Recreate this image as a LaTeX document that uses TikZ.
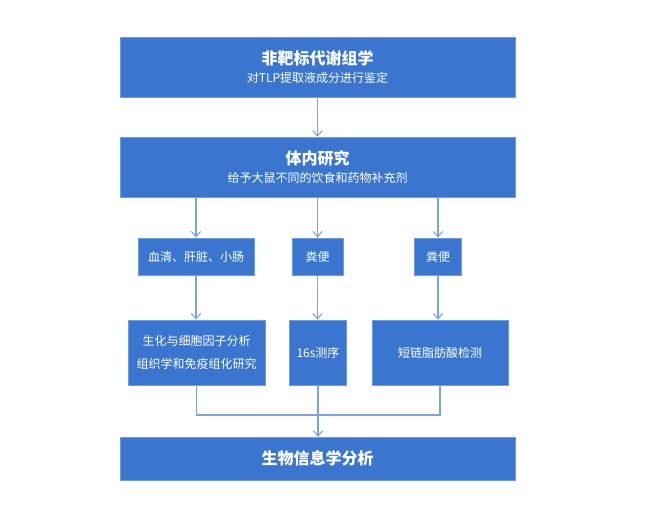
\documentclass[tikz,border=0pt]{standalone}
\usepackage{fontspec}
\newfontfamily\cjk{Noto Sans CJK SC}
\usetikzlibrary{arrows.meta}
\definecolor{bfill}{HTML}{3A76D0}
\definecolor{bline}{HTML}{6E9CE0}
\definecolor{aline}{HTML}{7AA3E0}
\begin{document}
\begin{tikzpicture}[x=0.75pt,y=-0.75pt,
  box/.style={draw=bline,fill=bfill,text=white,font=\cjk\fontsize{9}{13}\selectfont,align=center,inner sep=0pt},
  arr/.style={draw=aline,line width=0.8pt,-{Straight Barb[length=4pt,width=7pt]}},
  ln/.style={draw=aline,line width=0.8pt}]
\useasboundingbox[fill=white] (0,0) rectangle (667,513);
\node[box,minimum width=296pt,minimum height=45pt] (top) at (317.5,67) {{\fontsize{12}{18}\selectfont\bfseries 非靶标代谢组学}\\对TLP提取液成分进行鉴定};
\node[box,minimum width=296pt,minimum height=45pt] (mid) at (317.5,167) {{\fontsize{12}{18}\selectfont\bfseries 体内研究}\\给予大鼠不同的饮食和药物补充剂};
\node[box,minimum width=87pt,minimum height=28pt] (a1) at (196,256.5) {血清、肝脏、小肠};
\node[box,minimum width=38pt,minimum height=28pt] (a2) at (317.5,256.5) {粪便};
\node[box,minimum width=35pt,minimum height=28pt] (a3) at (438,256.5) {粪便};
\node[box,minimum width=103pt,minimum height=49pt,font=\cjk\fontsize{9}{17}\selectfont] (b1) at (196.5,352.5) {生化与细胞因子分析\\组织学和免疫组化研究};
\node[box,minimum width=43pt,minimum height=49pt] (b2) at (318,352.5) {16s测序};
\node[box,minimum width=102pt,minimum height=49pt] (b3) at (440,352.5) {短链脂肪酸检测};
\node[box,minimum width=296pt,minimum height=32pt] (bot) at (317.5,458.5) {{\fontsize{12}{18}\selectfont\bfseries 生物信息学分析}};
\coordinate (j) at (318,415);
\draw[arr] (top) -- (mid);
\draw[arr] (mid.south -| a1) -- (a1);
\draw[arr] (mid.south -| a2) -- (a2);
\draw[arr] (mid.south -| a3) -- (a3);
\draw[arr] (a1.south) -- (a1.south |- b1.north);
\draw[arr] (a2) -- (b2.north -| a2);
\draw[arr] (a3) -- (b3.north -| a3);
\draw[ln] (b1.south) |- (j) -| (b3.south);
\draw[ln] (b2.south) -- (b2.south |- j);
\draw[arr] (j) -- (bot.north -| j);
\end{tikzpicture}
\end{document}
